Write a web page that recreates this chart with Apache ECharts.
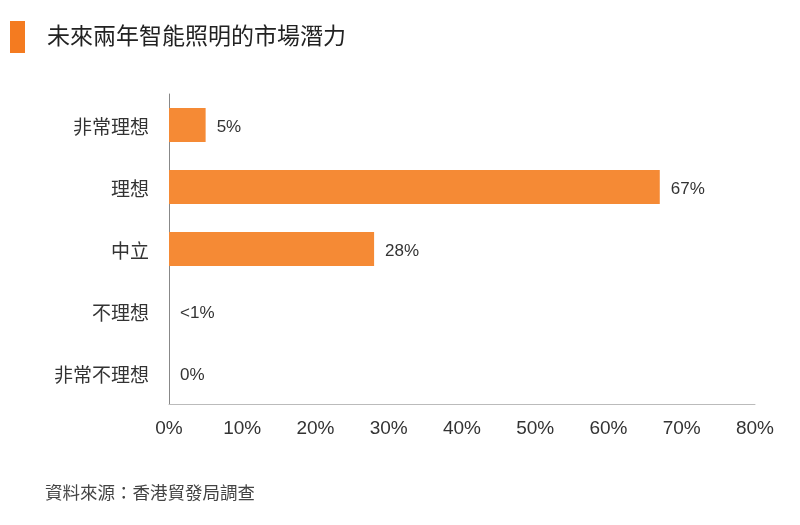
<!DOCTYPE html>
<html><head><meta charset="utf-8">
<script src="https://cdn.jsdelivr.net/npm/echarts@6/dist/echarts.min.js"></script>
<style>html,body{margin:0;padding:0;background:#fff}#c{width:800px;height:525px}</style>
</head><body><div id="c"></div>
<script>
var categories = ['非常理想','理想','中立','不理想','非常不理想'];
var values = [5, 67, 28, 0, 0];
var valueLabels = ['5%','67%','28%','<1%','0%'];
var xTicks = [0,10,20,30,40,50,60,70,80];
var title = '未來兩年智能照明的市場潛力';
var source = '資料來源：香港貿發局調查';

var font = 'Arial,"Liberation Sans","Noto Sans CJK TC",sans-serif';
var chart = echarts.init(document.getElementById('c'), null, {renderer:'canvas'});
chart.setOption({
  animation:false,
  backgroundColor:'#fff',
  graphic:[
    {type:'rect', shape:{x:10,y:21,width:15,height:32}, style:{fill:'#F47B20'}},
    {type:'text', left:47, top:26, style:{text:title, font:'23px '+font, fill:'#222'}},
    {type:'text', left:45, top:485, style:{text:source, font:'17.5px '+font, fill:'#444'}}
  ],
  grid:{left:169, right:45, top:94, bottom:121, containLabel:false},
  xAxis:{type:'value', min:xTicks[0], max:xTicks[xTicks.length-1], interval:10,
    axisLine:{show:true, lineStyle:{color:'#bbb'}}, axisTick:{show:false}, splitLine:{show:false},
    axisLabel:{formatter:'{value}%', fontSize:19, color:'#333', margin:15, fontFamily:font}},
  yAxis:{type:'category', data:categories, inverse:true,
    axisLine:{show:true, lineStyle:{color:'#888'}}, axisTick:{show:false},
    axisLabel:{margin:20, formatter:function(v){return '{a|'+v+'}';},
      rich:{a:{fontSize:19, color:'#333', fontFamily:font, padding:[8,0,0,0]}}}},
  series:[{type:'bar', data:values, barWidth:34, itemStyle:{color:'#F58A35'},
    label:{show:true, position:'right', distance:11, offset:[0,2], fontSize:17, color:'#333', fontFamily:font,
      formatter:function(p){return valueLabels[p.dataIndex];}}}]
});
</script></body></html>
